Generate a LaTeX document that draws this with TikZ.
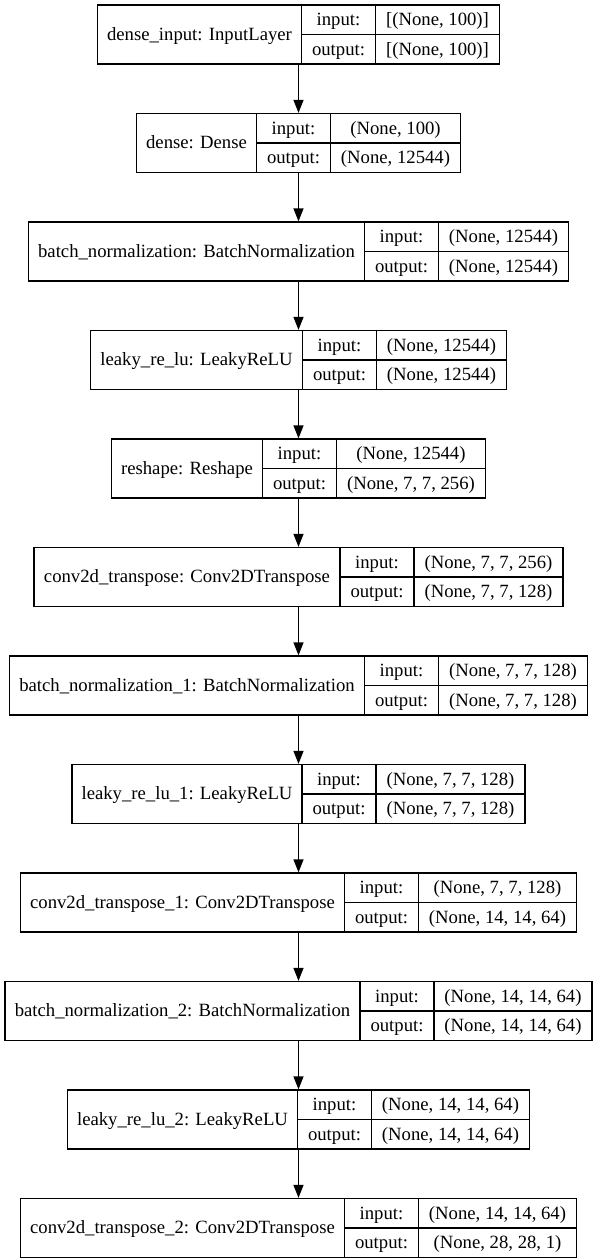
\documentclass[tikz,border=0pt]{standalone}
\usepackage{fontspec}
\setmainfont{Liberation Serif}
\usetikzlibrary{arrows.meta}

\begin{document}
\begin{tikzpicture}[x=1pt,y=-1pt,
    layer/.style={draw,line width=1.3pt,inner sep=0pt,minimum height=59pt},
    txt/.style={inner sep=0pt,text height=12.7pt,text depth=4pt,yshift=-1.5pt,font=\fontsize{18.7}{22}\selectfont},
    flow/.style={-{Triangle[length=13pt,width=10pt]},line width=1.3pt}]
    \useasboundingbox (0,0) rectangle (598,1259);

    % one record per layer: name | input/output | shapes
    \foreach \i/\nw/\vw/\nm/\vin/\vout in {
        1/204/124/{dense\_input: InputLayer}/{[(None, 100)]}/{[(None, 100)]},
        2/120/130/{dense: Dense}/{(None, 100)}/{(None, 12544)},
        3/336/130/{batch\_normalization: BatchNormalization}/{(None, 12544)}/{(None, 12544)},
        4/212/130/{leaky\_re\_lu: LeakyReLU}/{(None, 12544)}/{(None, 12544)},
        5/151/149/{reshape: Reshape}/{(None, 12544)}/{(None, 7, 7, 256)},
        6/306/149/{conv2d\_transpose: Conv2DTranspose}/{(None, 7, 7, 256)}/{(None, 7, 7, 128)},
        7/355/149/{batch\_normalization\_1: BatchNormalization}/{(None, 7, 7, 128)}/{(None, 7, 7, 128)},
        8/230/149/{leaky\_re\_lu\_1: LeakyReLU}/{(None, 7, 7, 128)}/{(None, 7, 7, 128)},
        9/324/158/{conv2d\_transpose\_1: Conv2DTranspose}/{(None, 7, 7, 128)}/{(None, 14, 14, 64)},
        10/355/158/{batch\_normalization\_2: BatchNormalization}/{(None, 14, 14, 64)}/{(None, 14, 14, 64)},
        11/230/158/{leaky\_re\_lu\_2: LeakyReLU}/{(None, 14, 14, 64)}/{(None, 14, 14, 64)},
        12/324/158/{conv2d\_transpose\_2: Conv2DTranspose}/{(None, 14, 14, 64)}/{(None, 28, 28, 1)}%
    }{
        \pgfmathsetmacro{\ya}{5+(\i-1)*108.5}
        \pgfmathsetmacro{\ym}{\ya+29.5}
        \pgfmathsetmacro{\yb}{\ya+59}
        \pgfmathsetmacro{\xl}{298.5-(\nw+74+\vw)/2}
        \pgfmathsetmacro{\xa}{\xl+\nw}
        \pgfmathsetmacro{\xb}{\xa+74}
        \pgfmathsetmacro{\xr}{\xb+\vw}

        \node[layer,minimum width={(\nw+74+\vw)*1pt}] (L\i) at (298.5,\ym) {};
        \draw[line width=1.3pt] (\xa,\ya) -- (\xa,\yb) (\xb,\ya) -- (\xb,\yb)
            (\xa,\ym) -- (\xr,\ym);

        \node[txt] (n\i) at ({(\xl+\xa)/2},\ym) {\nm};
        \node[txt] (i\i) at ({(\xa+\xb)/2},\ya+14.75) {input:};
        \node[txt] (o\i) at ({(\xa+\xb)/2},\ym+14.75) {output:};
        \node[txt] (vi\i) at ({(\xb+\xr)/2},\ya+14.75) {\vin};
        \node[txt] (vo\i) at ({(\xb+\xr)/2},\ym+14.75) {\vout};
    }

    \foreach \i [count=\j from 2] in {1,...,11}
        \path [flow] (L\i) edge (L\j);
\end{tikzpicture}
\end{document}
